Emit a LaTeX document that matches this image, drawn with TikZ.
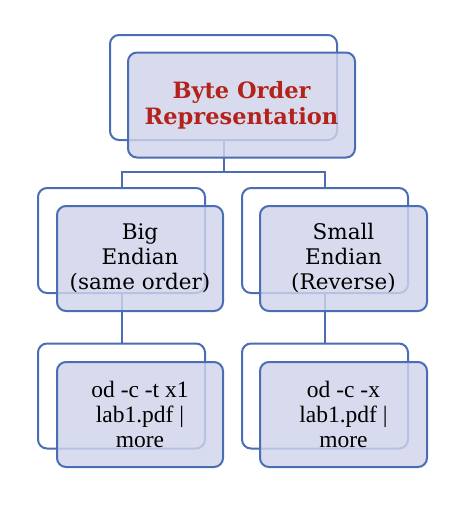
\documentclass[tikz,border=0pt]{standalone}
\usepackage{fontspec}
\setmainfont{DejaVu Serif}
\newfontfamily\timesfont{Liberation Serif}
\definecolor{edgeblue}{HTML}{4A6DB5}
\definecolor{boxfill}{HTML}{CFD4EA}
\definecolor{titlered}{HTML}{B3221B}
\tikzset{
  backbox/.style={draw=edgeblue, line width=2pt, rounded corners=9pt, fill=white, inner sep=0pt, minimum width=#1, minimum height=105pt},
  frontbox/.style={draw=edgeblue, line width=2pt, rounded corners=9pt, fill=boxfill, fill opacity=0.82, text opacity=1, inner sep=0pt, minimum width=#1, minimum height=105pt, align=center},
  conn/.style={draw=edgeblue, line width=2pt},
  labelfont/.style={font=\fontsize{21.5}{25}\selectfont},
  cmdfont/.style={font=\timesfont\fontsize{23.5}{25}\selectfont},
  titlefont/.style={font=\bfseries\fontsize{22.5}{26}\selectfont, text=titlered}
}
\begin{document}
\begin{tikzpicture}[x=1pt,y=-1pt]
\useasboundingbox (0,0) rectangle (460,520);
% back boxes
\node[backbox=227pt] (rootback) at (223.5,87.5) {};
\node[backbox=167pt] (bigback) at (121.5,240.5) {};
\node[backbox=166pt] (smallback) at (325,240.5) {};
\node[backbox=167pt] (bigcmdback) at (121.5,396) {};
\node[backbox=166pt] (smallcmdback) at (325,396) {};
% connectors
\coordinate (split) at (223.5,172);
\draw[conn] (rootback.south) -- (split);
\draw[conn] (bigback.north) |- (split) -| (smallback.north);
\draw[conn] (bigback.south) -- (bigcmdback.north);
\draw[conn] (smallback.south) -- (smallcmdback.north);
% front boxes
\node[frontbox=227pt, titlefont] (root) at (241.5,105) {Byte Order\\Representation};
\node[frontbox=166pt, labelfont] (big) at (140,258.5) {Big\\Endian\\(same order)};
\node[frontbox=167pt, labelfont] (small) at (343.5,258.5) {Small\\Endian\\(Reverse)};
\node[frontbox=166pt, cmdfont] (bigcmd) at (140,414.5) {od -c -t x1\\lab1.pdf |\\more};
\node[frontbox=167pt, cmdfont] (smallcmd) at (343.5,414.5) {od -c -x\\lab1.pdf |\\more};
\end{tikzpicture}
\end{document}
